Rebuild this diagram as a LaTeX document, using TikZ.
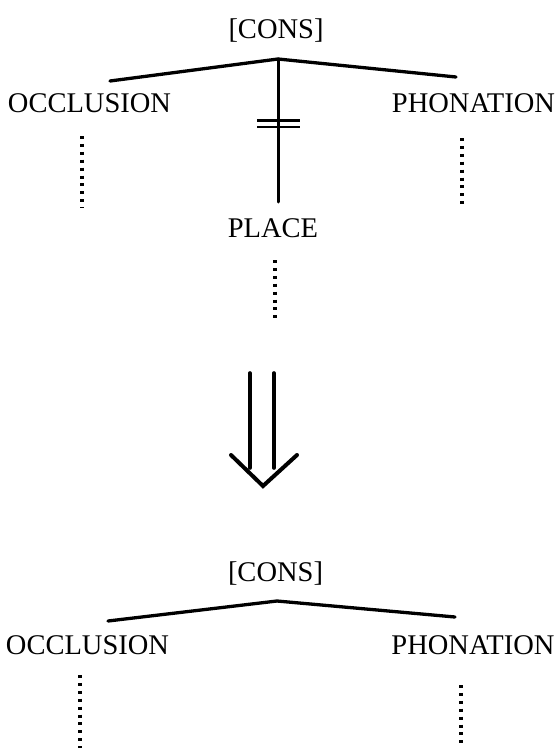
\documentclass[tikz,border=0pt]{standalone}
\usepackage{fontspec}
\setmainfont{Liberation Serif}
\usepackage{tikz}
\usetikzlibrary{positioning}
\newcommand\labfont{\fontsize{28.5bp}{30bp}\selectfont}

\begin{document}
\begin{tikzpicture}[x=1bp,y=-1bp,line cap=round,
  every node/.style={font=\labfont,inner sep=0pt,anchor=base},
  branch/.style={line width=3.3bp},
  dotline/.style={line width=3.3bp,line cap=butt,dash pattern=on 3bp off 4.9bp},
  cutbar/.style={line width=2.8bp,line cap=butt}]
\useasboundingbox (0,0) rectangle (557,748);
% before
\node (consA) at (276,39) {[CONS]};
\node (occA) at (89.5,112.5) {OCCLUSION};
\node (phonA) at (473.5,112.5) {PHONATION};
\node (plcA) at (273,237) {PLACE};
\coordinate (apexA) at (278,59);
\coordinate (lftA) at (110,81);
\coordinate (rgtA) at (456,77);
\coordinate (plcTop) at (278,202);
\draw[branch] (lftA) -- (apexA) -- (rgtA);
\draw[line width=3bp] (apexA) -- (plcTop);
\draw[cutbar] (257,120.5) -- (300,120.5);
\draw[cutbar] (257,127) -- (300,127);
\draw[dotline] (82,136) -- (82,208);
\draw[dotline] (462,138) -- (462,209);
\draw[dotline] (275,260) -- (275,319);
% the change
\coordinate (shL) at (250,373);
\coordinate (shR) at (274,373);
\coordinate (tip) at (263,486);
\draw[line width=3.6bp] (shL) -- (250,468);
\draw[line width=3.6bp] (shR) -- (274,468);
\draw[line width=4bp] (231,455) -- (tip) -- (297,455);
% after
\node (consB) at (275.5,581) {[CONS]};
\node (occB) at (87.5,654) {OCCLUSION};
\node (phonB) at (473,654) {PHONATION};
\coordinate (apexB) at (277,601);
\coordinate (lftB) at (108,621);
\coordinate (rgtB) at (455,617);
\draw[branch] (lftB) -- (apexB) -- (rgtB);
\draw[dotline] (80,675) -- (80,750);
\draw[dotline] (461,685) -- (461,750);
\end{tikzpicture}
\end{document}
